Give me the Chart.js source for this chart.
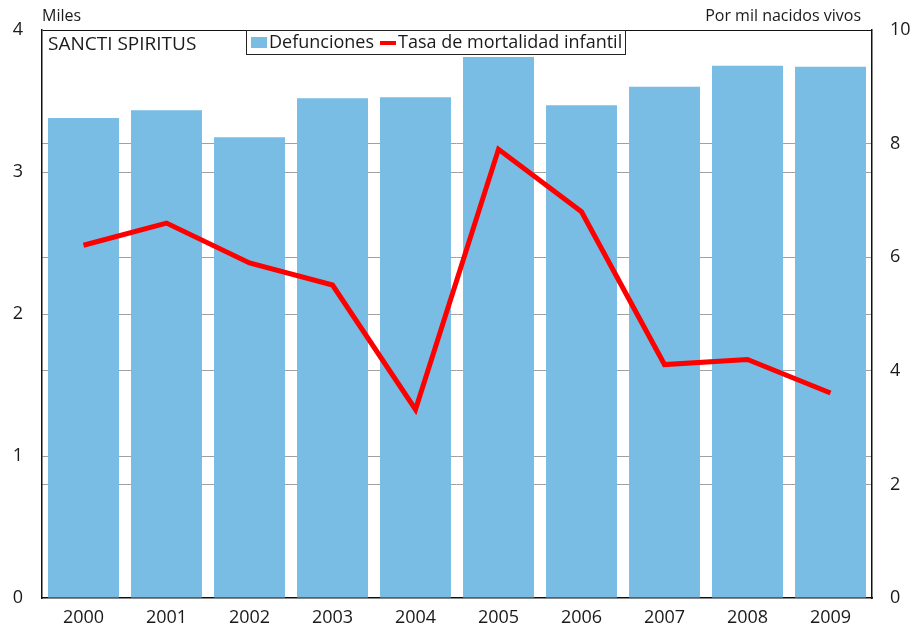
<!DOCTYPE html>
<html>
<head>
<meta charset="utf-8">
<script src="https://cdn.jsdelivr.net/npm/chart.js@4"></script>
<style>
  html, body { margin: 0; padding: 0; background: #fff; }
  #wrap { position: relative; width: 916px; height: 629px; }
</style>
</head>
<body>
<div id="wrap"><canvas id="c" width="916" height="629"></canvas></div>
<script>
const categories = ['2000','2001','2002','2003','2004','2005','2006','2007','2008','2009'];
const defunciones = [3.38, 3.435, 3.245, 3.52, 3.527, 3.81, 3.47, 3.60, 3.748, 3.741];
const tasaMortalidad = [6.21, 6.60, 5.90, 5.51, 3.32, 7.90, 6.80, 4.11, 4.20, 3.61];
const leftTicks = [0, 1, 2, 3, 4];
const rightTicks = [0, 2, 4, 6, 8, 10];
const labelLeft = 'Miles';
const labelRight = 'Por mil nacidos vivos';
const chartTitle = 'SANCTI SPIRITUS';

const FONT = '"Open Sans", "DejaVu Sans", sans-serif';
const TEXT = '#1a1a1a';
const BLUE = '#79bde5';
const RED = '#ff0000';
const GRID = '#a0a0a0';

const overlay = {
  id: 'overlay',
  afterDraw(chart) {
    const ctx = chart.ctx;
    const a = chart.chartArea;
    ctx.save();
    ctx.fillStyle = TEXT;
    ctx.font = '16px ' + FONT;
    ctx.textBaseline = 'middle';
    ctx.textAlign = 'left';
    ctx.fillText(labelLeft, a.left, 16);
    ctx.textAlign = 'right';
    ctx.fillText(labelRight, a.right - 11, 16);
    ctx.font = '19px ' + FONT;
    ctx.textAlign = 'left';
    ctx.fillText(chartTitle, a.left + 6, 45);
    const ds = chart.data.datasets;
    const bx = 246.5, by = a.top + 0.5, bw = 379, bh = 24;
    ctx.fillStyle = '#fff';
    ctx.fillRect(bx, by, bw, bh);
    ctx.strokeStyle = '#222';
    ctx.lineWidth = 1;
    ctx.strokeRect(bx, by, bw, bh);
    ctx.font = '18px ' + FONT;
    ctx.textBaseline = 'middle';
    ctx.textAlign = 'left';
    const cy = by + 12;
    const barDs = ds.find(d => d.type === 'bar');
    const lineDs = ds.find(d => d.type === 'line');
    ctx.fillStyle = barDs.backgroundColor;
    ctx.fillRect(251, 37, 16, 11);
    ctx.fillStyle = TEXT;
    ctx.fillText(barDs.label, 269, cy);
    ctx.strokeStyle = lineDs.borderColor;
    ctx.lineWidth = 4;
    ctx.beginPath();
    ctx.moveTo(380, 43);
    ctx.lineTo(396, 43);
    ctx.stroke();
    ctx.fillStyle = TEXT;
    ctx.fillText(lineDs.label, 398, cy);
    ctx.restore();
  }
};

new Chart(document.getElementById('c'), {
  data: {
    labels: categories,
    datasets: [
      {
        type: 'line',
        label: 'Tasa de mortalidad infantil',
        data: tasaMortalidad,
        yAxisID: 'y1',
        borderColor: RED,
        backgroundColor: RED,
        borderWidth: 5,
        pointRadius: 0,
        tension: 0,
        order: 0
      },
      {
        type: 'bar',
        label: 'Defunciones',
        data: defunciones,
        yAxisID: 'y',
        backgroundColor: BLUE,
        borderWidth: 0,
        barPercentage: 0.855,
        categoryPercentage: 1.0,
        order: 1
      }
    ]
  },
  options: {
    responsive: false,
    animation: false,
    devicePixelRatio: 1,
    layout: { padding: { top: 30, left: 0, right: 0, bottom: 0 } },
    plugins: {
      legend: { display: false },
      tooltip: { enabled: false },
      title: { display: false }
    },
    scales: {
      x: {
        grid: { display: false, drawTicks: false },
        border: { display: true, color: '#111', width: 1.5 },
        ticks: { color: TEXT, font: { family: FONT, size: 18 }, padding: 9, maxRotation: 0 },
        afterFit(s) { s.height = 31; }
      },
      y: {
        position: 'left',
        min: 0, max: 4,
        afterBuildTicks(s) { s.ticks = leftTicks.map(v => ({ value: v })); },
        grid: {
          drawTicks: false,
          color: ctx => (ctx.tick && ctx.tick.value === 4) ? '#111' : (ctx.tick && ctx.tick.value === 0 ? 'rgba(0,0,0,0)' : GRID),
          lineWidth: 1
        },
        border: { display: true, color: '#111', width: 1.5 },
        ticks: { color: TEXT, font: { family: FONT, size: 18 }, padding: 19 },
        afterFit(s) { s.width = 42; }
      },
      y1: {
        position: 'right',
        min: 0, max: 10,
        afterBuildTicks(s) { s.ticks = rightTicks.map(v => ({ value: v })); },
        grid: {
          drawTicks: false,
          color: ctx => (ctx.tick && (ctx.tick.value === 0 || ctx.tick.value === 10)) ? 'rgba(0,0,0,0)' : GRID,
          lineWidth: 1
        },
        border: { display: true, color: '#111', width: 1.5 },
        ticks: { color: TEXT, font: { family: FONT, size: 18 }, padding: 18 },
        afterFit(s) { s.width = 44; }
      }
    }
  },
  plugins: [overlay]
});
</script>
</body>
</html>
